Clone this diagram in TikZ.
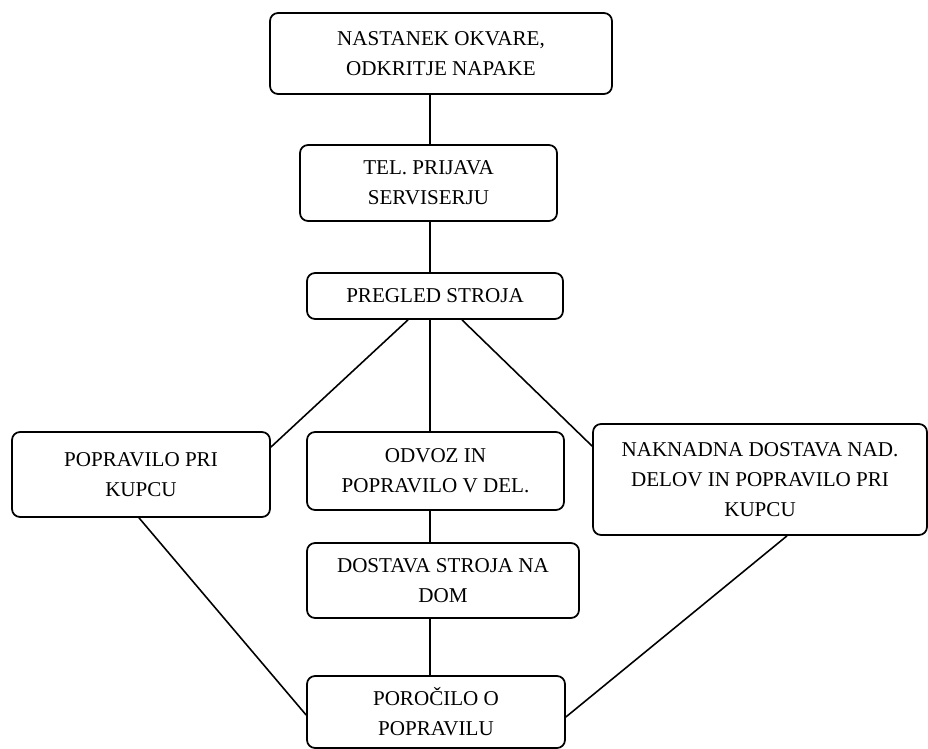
\documentclass[tikz,border=0pt]{standalone}
\usepackage{fontspec}
\setmainfont{Liberation Serif}

\begin{document}
\begin{tikzpicture}[x=0.02cm,y=-0.02cm,
  korak/.style={draw,rounded corners=0.16cm,line width=1pt,inner sep=0pt,
    align=center,font=\fontsize{12}{17}\selectfont},
  povezava/.style={line width=0.9pt}]
\useasboundingbox (0,0) rectangle (928,749);
\node[korak,minimum width=6.84cm,minimum height=1.62cm] (okvara) at (441,53.5) {NASTANEK OKVARE,\\ODKRITJE NAPAKE};
\node[korak,minimum width=5.14cm,minimum height=1.52cm] (prijava) at (428.5,183) {TEL. PRIJAVA\\SERVISERJU};
\node[korak,minimum width=5.12cm,minimum height=0.92cm] (pregled) at (435,296) {PREGLED STROJA};
\node[korak,minimum width=5.16cm,minimum height=1.7cm] (kupec) at (141,474.5) {POPRAVILO PRI\\KUPCU};
\node[korak,minimum width=5.14cm,minimum height=1.56cm] (odvoz) at (435.5,471) {ODVOZ IN\\POPRAVILO V DEL.};
\node[korak,minimum width=6.68cm,minimum height=2.22cm] (naknadna) at (760,479.5) {NAKNADNA DOSTAVA NAD.\\DELOV IN POPRAVILO PRI\\KUPCU};
\node[korak,minimum width=5.44cm,minimum height=1.5cm] (dostava) at (443,580.5) {DOSTAVA STROJA NA\\DOM};
\node[korak,minimum width=5.16cm,minimum height=1.44cm] (porocilo) at (436,712) {POROČILO O\\POPRAVILU};
\coordinate (os) at (430,0);
% navpicna os
\draw[povezava] (okvara.south -| os) -- (prijava.north -| os);
\draw[povezava] (prijava.south -| os) -- (pregled.north -| os);
\draw[povezava] (pregled.south -| os) -- (odvoz.north -| os);
\draw[povezava] (odvoz.south -| os) -- (dostava.north -| os);
\draw[povezava] (dostava.south -| os) -- (porocilo.north -| os);
% stranske veje
\draw[povezava] ([xshift=-0.54cm]pregled.south) -- ([yshift=-0.32cm]kupec.north east);
\draw[povezava] ([xshift=0.54cm]pregled.south) -- ([yshift=-0.46cm]naknadna.north west);
\draw[povezava] ([xshift=-0.04cm]kupec.south) -- ([yshift=-0.06cm]porocilo.west);
\draw[povezava] ([xshift=0.54cm]naknadna.south) -- ([yshift=-0.1cm]porocilo.east);
\end{tikzpicture}
\end{document}
